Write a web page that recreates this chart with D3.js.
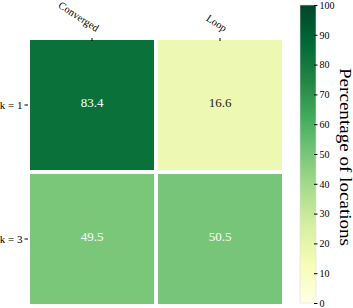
<!DOCTYPE html>
<html>
  <head>
    <meta charset="utf-8" />
    <style>
      body { margin: 0; background: #fff; }
      text { font-family: 'Liberation Serif', 'Times New Roman', serif; }
    </style>
  </head>
  <body>

<svg id="chart"></svg>

<script src="https://d3js.org/d3.v7.min.js"></script>
<script>
const WIDTH = 353
const HEIGHT = 308

// the data
const ROWS = ['k = 1', 'k = 3']
const COLS = ['Converged', 'Loop']
const CONVERGED = [83.4, 49.5]
const LOOP = [16.6, 50.5]
const CBAR_TICKS = [0, 10, 20, 30, 40, 50, 60, 70, 80, 90, 100]

const cells = []
ROWS.forEach((r, i) => {
  cells.push({ row: r, col: COLS[0], value: CONVERGED[i] })
  cells.push({ row: r, col: COLS[1], value: LOOP[i] })
})

// heatmap box
const LEFT = 28, RIGHT = 284, TOP = 38, BOTTOM = 306
const GAP = 4

const svg = d3.select('#chart')
  .attr('width', WIDTH)
  .attr('height', HEIGHT)

const x = d3.scaleBand().domain(COLS).range([LEFT, RIGHT])
const y = d3.scaleBand().domain(ROWS).range([TOP, BOTTOM])

// YlGn, linear between the 9 brewer colours like matplotlib
const brewer = d3.schemeYlGn[9]
const color = d3.scaleLinear()
  .domain(brewer.map((c, i) => i * 100 / 8))
  .range(brewer)

svg.append('g').selectAll('rect')
  .data(cells)
  .enter()
    .append('rect')
    .attr('x', d => x(d.col) + GAP / 2)
    .attr('y', d => y(d.row) + GAP / 2)
    .attr('width', x.bandwidth() - GAP)
    .attr('height', y.bandwidth() - GAP)
    .attr('fill', d => color(d.value))

svg.append('g').selectAll('text')
  .data(cells)
  .enter()
    .append('text')
    .attr('x', d => x(d.col) + x.bandwidth() / 2)
    .attr('y', d => y(d.row) + y.bandwidth() / 2 - 3)
    .attr('dy', '0.35em')
    .attr('text-anchor', 'middle')
    .attr('font-size', 13)
    .attr('fill', d => d.value > 30 ? '#fff' : '#222')
    .text(d => d.value.toFixed(1))

// left axis
const axisLeft = d3.axisLeft(y).tickSize(3.5).tickPadding(2)
const gl = svg.append('g')
  .attr('transform', `translate(${LEFT}, 0)`)
  .call(axisLeft)
gl.select('.domain').remove()
gl.selectAll('text').attr('font-size', 11).attr('fill', '#000')

// top axis, rotated labels
const axisTop = d3.axisTop(x).tickSize(-3).tickPadding(6)
const gt = svg.append('g')
  .attr('transform', `translate(0, ${TOP})`)
  .call(axisTop)
gt.select('.domain').remove()
gt.selectAll('text')
  .attr('font-size', 10.5)
  .attr('fill', '#000')
  .attr('text-anchor', 'end')
  .attr('transform', 'translate(4, -6) rotate(33)')
  .attr('x', 0)
  .attr('y', 0)
  .attr('dy', 0)

// colorbar
const CB_X = 300, CB_W = 16, CB_TOP = 5, CB_BOTTOM = 303
const cy = d3.scaleLinear().domain([0, 100]).range([CB_BOTTOM, CB_TOP])

const defs = svg.append('defs')
const grad = defs.append('linearGradient')
  .attr('id', 'cbar')
  .attr('x1', 0).attr('y1', 1).attr('x2', 0).attr('y2', 0)
grad.selectAll('stop')
  .data(brewer)
  .enter()
    .append('stop')
    .attr('offset', (d, i) => i / 8)
    .attr('stop-color', d => d)

svg.append('rect')
  .attr('x', CB_X)
  .attr('y', CB_TOP)
  .attr('width', CB_W)
  .attr('height', CB_BOTTOM - CB_TOP)
  .attr('fill', 'url(#cbar)')
  .attr('stroke', '#ddd')
  .attr('stroke-width', 0.6)

const axisCb = d3.axisRight(cy).tickValues(CBAR_TICKS).tickSize(3.5).tickPadding(2)
const gc = svg.append('g')
  .attr('transform', `translate(${CB_X + CB_W - 2}, 0)`)
  .call(axisCb)
gc.select('.domain').remove()
gc.selectAll('text').attr('font-size', 10).attr('fill', '#000')

svg.append('text')
  .attr('transform', `translate(340, 157) rotate(90)`)
  .attr('text-anchor', 'middle')
  .attr('font-size', 16)
  .attr('textLength', 178)
  .attr('lengthAdjust', 'spacingAndGlyphs')
  .attr('fill', '#000')
  .text('Percentage of locations')

</script>
